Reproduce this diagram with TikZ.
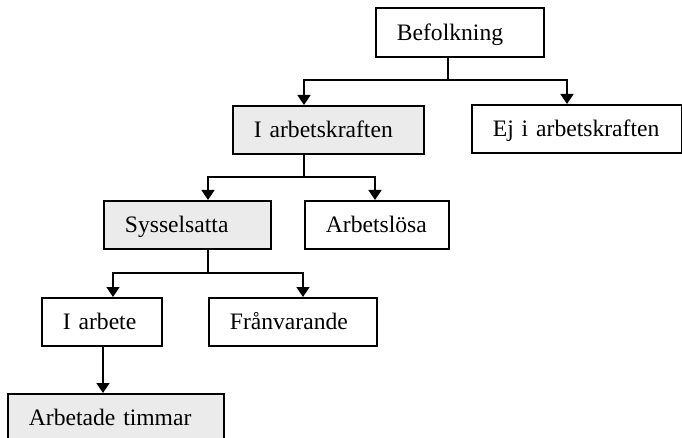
\documentclass[tikz,border=0pt]{standalone}
\usepackage{fontspec}
\setmainfont{Liberation Serif}
\usetikzlibrary{arrows.meta}
\definecolor{boxgray}{HTML}{EBEBEB}
\begin{document}
\begin{tikzpicture}[x=1pt,y=-1pt,
  box/.style={draw=black, line width=1.8pt, rectangle, anchor=north west,
    inner xsep=21pt, inner ysep=0pt, align=left, text width=#1-42pt,
    minimum height=48pt, text height=16pt, text depth=0pt,
    font=\fontsize{23.6}{28}\selectfont},
  shaded/.style={fill=boxgray},
  conn/.style={line width=1.8pt},
  arr/.style={conn, -{Triangle[length=10pt,width=13pt]}}]
\useasboundingbox (0,0) rectangle (682,438);
\node[box=168pt, minimum height=49pt] (bef) at (375,7) {Befolkning};
\node[box=191pt, shaded] (iak) at (232,105) {I arbetskraften};
\node[box=210pt] (ej) at (471,104) {Ej i arbetskraften};
\node[box=167pt, shaded] (sys) at (103,200) {Sysselsatta};
\node[box=144pt] (arl) at (304,200) {Arbetslösa};
\node[box=120pt] (iar) at (41,297) {I arbete};
\node[box=168pt] (fran) at (208,297) {Frånvarande};
\node[box=216pt, shaded] (tim) at (7,393) {Arbetade timmar};
% level 1
\coordinate (b1) at (448,80);
\coordinate (b1l) at (304,80);
\coordinate (b1r) at (567,80);
\draw[conn] (bef.south -| b1) -- (b1);
\draw[arr] (b1) -- (b1l) -- (b1l |- iak.north);
\draw[arr] (b1) -- (b1r) -- (b1r |- ej.north);
% level 2
\coordinate (b2) at (304,177);
\coordinate (b2l) at (208,177);
\coordinate (b2r) at (375,177);
\draw[conn] (iak.south -| b2) -- (b2);
\draw[arr] (b2) -- (b2l) -- (b2l |- sys.north);
\draw[arr] (b2) -- (b2r) -- (b2r |- arl.north);
% level 3
\coordinate (b3) at (208,273);
\coordinate (b3l) at (113,273);
\coordinate (b3r) at (303,273);
\draw[conn] (sys.south -| b3) -- (b3);
\draw[arr] (b3) -- (b3l) -- (b3l |- iar.north);
\draw[arr] (b3) -- (b3r) -- (b3r |- fran.north);
% level 4
\coordinate (b4) at (103,345);
\draw[arr] (iar.south -| b4) -- (b4 |- tim.north);
\end{tikzpicture}
\end{document}
